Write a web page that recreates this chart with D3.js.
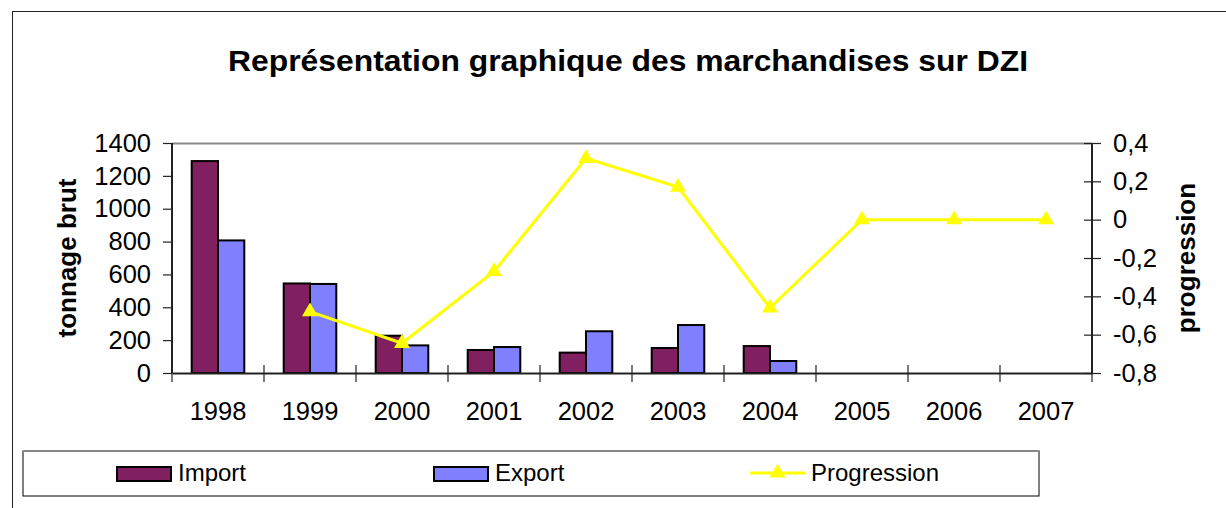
<!DOCTYPE html>
<html>
<head>
<meta charset="utf-8">
<script src="https://cdn.jsdelivr.net/npm/d3@7"></script>
<style>
  body { margin: 0; background: #fff; }
  svg { display: block; font-family: "Liberation Sans", Arial, sans-serif; }
</style>
</head>
<body>
<div id="chart"></div>
<script>
// --- Data ---
const years = ['1998', '1999', '2000', '2001', '2002', '2003', '2004', '2005', '2006', '2007'];
const importVals = [1290, 545, 227, 140, 124, 152, 164, null, null, null];
const exportVals = [807, 542, 168, 158, 254, 292, 73, null, null, null];
const progression = [null, -0.48, -0.645, -0.27, 0.32, 0.17, -0.46, 0, 0, 0];
const leftTicks = [0, 200, 400, 600, 800, 1000, 1200, 1400];
const rightTicks = [-0.8, -0.6, -0.4, -0.2, 0, 0.2, 0.4];

const width = 1226, height = 508;
const margin = {left: 172, right: 1092, top: 143, bottom: 373};
const importColor = '#802060', exportColor = '#8080ff', lineColor = '#ffff00';

const svg = d3.select('#chart').append('svg')
  .attr('width', width)
  .attr('height', height);

svg.append('rect').attr('width', width).attr('height', height).attr('fill', '#fff');

// outer frame (goes off right and bottom)
svg.append('rect')
  .attr('x', 12.5).attr('y', 11.5)
  .attr('width', 1300).attr('height', 600)
  .attr('fill', 'none').attr('stroke', '#222').attr('stroke-width', 1);

// title
svg.append('text')
  .attr('x', 628).attr('y', 71)
  .attr('text-anchor', 'middle')
  .attr('font-size', 30).attr('font-weight', 'bold')
  .attr('textLength', 800).attr('lengthAdjust', 'spacingAndGlyphs')
  .text('Représentation graphique des marchandises sur DZI');

// --- Scales ---
const x = d3.scaleBand().domain(years).range([margin.left, margin.right]);
const xs = d3.scaleBand().domain(['import', 'export'])
  .range([0, x.bandwidth()]).paddingInner(0).paddingOuter(0.75);
const y = d3.scaleLinear().domain([0, 1400]).range([margin.bottom, margin.top]);
const y2 = d3.scaleLinear().domain([-0.8, 0.4]).range([margin.bottom, margin.top]);

// french decimal comma, plain hyphen for negatives
const comma = d => String(Math.round(d * 10) / 10).replace('.', ',');

// plot area top border (grey)
svg.append('line')
  .attr('x1', margin.left).attr('x2', margin.right)
  .attr('y1', margin.top + 0.5).attr('y2', margin.top + 0.5)
  .attr('stroke', '#888').attr('stroke-width', 2);

// --- Bars ---
const rows = years.map((yr, i) => ({yr, import: importVals[i], export: exportVals[i]}));
['import', 'export'].forEach(key => {
  svg.append('g').selectAll('rect')
    .data(rows.filter(d => d[key] != null))
    .join('rect')
    .attr('x', d => x(d.yr) + xs(key))
    .attr('y', d => y(d[key]))
    .attr('width', xs.bandwidth())
    .attr('height', d => y(0) - y(d[key]))
    .attr('fill', key === 'import' ? importColor : exportColor)
    .attr('stroke', '#000')
    .attr('stroke-width', 2);
});

// --- Axes ---
const axisLeft = svg.append('g')
  .attr('transform', `translate(${margin.left},0)`)
  .call(d3.axisLeft(y).tickValues(leftTicks).tickSize(9).tickPadding(12).tickFormat(d3.format('d')));
const axisRight = svg.append('g')
  .attr('transform', `translate(${margin.right},0)`)
  .call(d3.axisRight(y2).tickValues(rightTicks).tickSizeInner(9).tickSizeOuter(0).tickPadding(12).tickFormat(comma));
axisRight.selectAll('.tick line').attr('x1', -8).attr('x2', 9);
const axisBottom = svg.append('g')
  .attr('transform', `translate(0,${margin.bottom})`)
  .call(d3.axisBottom(x).tickSize(0).tickPadding(29));

[axisLeft, axisRight, axisBottom].forEach(g => {
  g.select('.domain').attr('stroke', '#222').attr('stroke-width', 2);
  g.selectAll('.tick line').attr('stroke', '#222').attr('stroke-width', 1.2);
  g.selectAll('.tick text').attr('font-size', 25.5).attr('fill', '#000')
    .attr('font-family', '"Liberation Sans", Arial, sans-serif');
});
axisLeft.select('.domain').attr('d', `M0,${margin.top}V${margin.bottom}`);
axisRight.select('.domain').attr('d', `M0,${margin.top}V${margin.bottom}`);

// category separators on x axis
svg.append('g').selectAll('line')
  .data(years.concat(['end']))
  .join('line')
  .attr('x1', (d, i) => i < years.length ? x(d) : margin.right)
  .attr('x2', (d, i) => i < years.length ? x(d) : margin.right)
  .attr('y1', margin.bottom - 8).attr('y2', margin.bottom + 9)
  .attr('stroke', '#222').attr('stroke-width', 1.2);

// axis titles
svg.append('text')
  .attr('transform', `translate(76,258) rotate(-90)`)
  .attr('text-anchor', 'middle')
  .attr('font-size', 26).attr('font-weight', 'bold')
  .text('tonnage brut');
svg.append('text')
  .attr('transform', `translate(1195,258) rotate(-90)`)
  .attr('text-anchor', 'middle')
  .attr('font-size', 26).attr('font-weight', 'bold')
  .text('progression');

// --- Progression line ---
const pts = years.map((yr, i) => ({yr, v: progression[i]})).filter(d => d.v != null);
const line = d3.line()
  .x(d => x(d.yr) + x.bandwidth() / 2)
  .y(d => y2(d.v));
svg.append('path')
  .datum(pts)
  .attr('fill', 'none')
  .attr('stroke', lineColor)
  .attr('stroke-width', 3)
  .attr('d', line);
const tri = d3.symbol().type(d3.symbolTriangle).size(110);
svg.append('g').selectAll('path')
  .data(pts)
  .join('path')
  .attr('transform', d => `translate(${x(d.yr) + x.bandwidth() / 2},${y2(d.v)})`)
  .attr('d', tri)
  .attr('fill', lineColor);

// --- Legend ---
const legend = svg.append('g');
legend.append('rect')
  .attr('x', 23).attr('y', 451)
  .attr('width', 1016).attr('height', 45)
  .attr('fill', '#fff').attr('stroke', '#000').attr('stroke-width', 1);
legend.append('line')
  .attr('x1', 23).attr('x2', 1039).attr('y1', 451).attr('y2', 451)
  .attr('stroke', '#888').attr('stroke-width', 2);

const legendItems = [
  {name: 'Import', type: 'bar', color: importColor, x: 117},
  {name: 'Export', type: 'bar', color: exportColor, x: 434},
  {name: 'Progression', type: 'line', color: lineColor, x: 750}
];
legendItems.forEach(it => {
  if (it.type === 'bar') {
    legend.append('rect')
      .attr('x', it.x).attr('y', 467)
      .attr('width', 54).attr('height', 14)
      .attr('fill', it.color).attr('stroke', '#000').attr('stroke-width', 2);
  } else {
    legend.append('line')
      .attr('x1', it.x).attr('x2', it.x + 55)
      .attr('y1', 473).attr('y2', 473)
      .attr('stroke', it.color).attr('stroke-width', 3);
    legend.append('path')
      .attr('transform', `translate(${it.x + 27.5},473)`)
      .attr('d', tri)
      .attr('fill', it.color);
  }
  legend.append('text')
    .attr('x', it.x + 61).attr('y', 481)
    .attr('font-size', 24)
    .text(it.name);
});
</script>
</body>
</html>
